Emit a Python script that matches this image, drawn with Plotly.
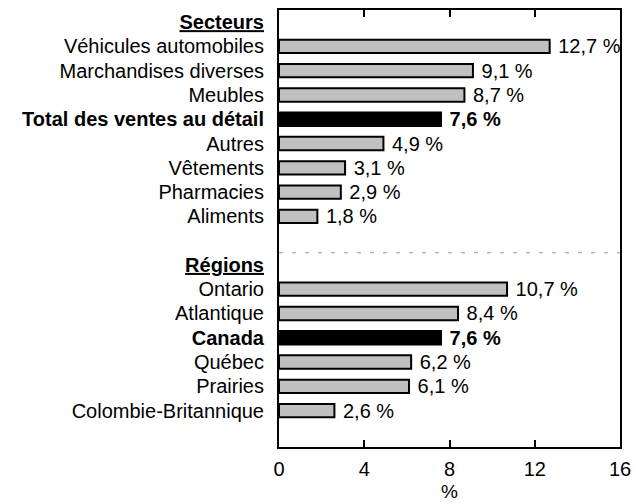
import plotly.graph_objects as go

# Data
secteurs = ["Véhicules automobiles", "Marchandises diverses", "Meubles",
            "Total des ventes au détail", "Autres", "Vêtements", "Pharmacies", "Aliments"]
secteurs_vals = [12.7, 9.1, 8.7, 7.6, 4.9, 3.1, 2.9, 1.8]
regions = ["Ontario", "Atlantique", "Canada", "Québec", "Prairies", "Colombie-Britannique"]
regions_vals = [10.7, 8.4, 7.6, 6.2, 6.1, 2.6]
totals = ["Total des ventes au détail", "Canada"]
header_sect = "Secteurs"
header_reg = "Régions"
spacer = " "
x_ticks = [0, 4, 8, 12, 16]
x_title = "%"

order = [header_sect] + secteurs + [spacer, header_reg] + regions
cats = secteurs + regions
vals = secteurs_vals + regions_vals

FONT = "Liberation Sans, Arial"
FS = 20

def fmt(v):
    return f"{v:.1f}".replace(".", ",") + " %"

colors = ["#000000" if c in totals else "#C0C0C0" for c in cats]
texts = [(" <b>" + fmt(v) + "</b>") if c in totals else (" " + fmt(v)) for c, v in zip(cats, vals)]

def ticklabel(c):
    if c in (header_sect, header_reg):
        return f"<b><u>{c}</u></b>"
    if c in totals:
        return f"<b>{c}</b>"
    return c

fig = go.Figure(go.Bar(
    x=vals, y=cats, orientation="h",
    marker=dict(color=colors, line=dict(color="#000000", width=2)),
    width=0.55,
    text=texts, textposition="outside", cliponaxis=False, constraintext="none",
    textfont=dict(size=FS, color="#000000", family=FONT),
))

fig.add_shape(type="line", xref="paper", x0=0, x1=1, yref="y", y0=9.5, y1=9.5,
              line=dict(color="#999999", width=1, dash="4px,9px"))

fig.add_annotation(text=x_title, xref="paper", yref="paper", x=0.5, y=0,
                   xanchor="center", yanchor="bottom", yshift=-56, showarrow=False,
                   borderpad=0, font=dict(size=19, color="#000000", family=FONT))

# page body has an 8px default margin; compensate so the plot sits where the reference has it
fig.update_layout(
    width=642, height=504,
    margin=dict(l=271, r=30, t=2, b=65, autoexpand=False),
    paper_bgcolor="white", plot_bgcolor="white",
    font=dict(family=FONT, size=FS, color="#000000"),
    showlegend=False,
    xaxis=dict(range=[0, 16], tickvals=x_ticks, ticks="inside", ticklen=7, tickwidth=2,
               tickcolor="#000000", showline=True, linecolor="#000000", linewidth=2,
               mirror="ticks", showgrid=False, zeroline=False, ticklabelstandoff=3,
               tickfont=dict(size=FS)),
    yaxis=dict(type="category", categoryorder="array", categoryarray=order,
               range=[17.5, -0.5], tickvals=order, ticktext=[ticklabel(c) for c in order],
               ticks="outside", ticklen=9, tickcolor="rgba(0,0,0,0)",
               showline=True, linecolor="#000000", linewidth=2, mirror=True,
               showgrid=False, zeroline=False, tickfont=dict(size=FS)),
)

fig.write_html("out.html")
